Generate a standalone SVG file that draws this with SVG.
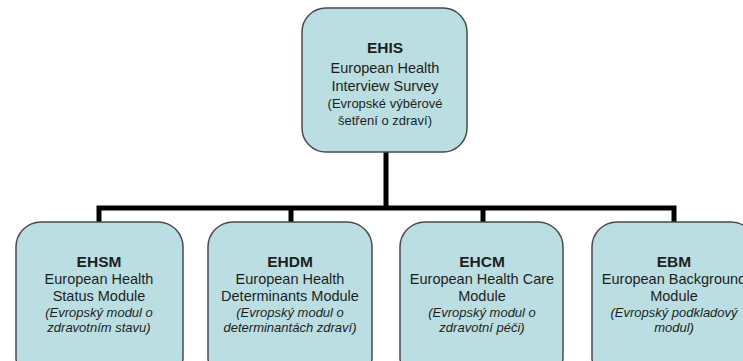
<svg xmlns="http://www.w3.org/2000/svg" width="743" height="361" viewBox="0 0 743 361">
<style>
.box{fill:#badee1;stroke:#4a4a4a;stroke-width:1.5}
.conn{fill:none;stroke:#000;stroke-width:5;stroke-linejoin:miter}
text{font-family:"Liberation Sans",Arial,sans-serif;fill:#1e1e1e;text-anchor:middle}
.t{font-weight:bold;font-size:15.5px}
.m{font-size:14.5px}
.s{font-size:13px}
.i{font-size:13px;font-style:italic}
</style>
<rect width="743" height="361" fill="#fff"/>
<g id="connectors">
<path class="conn" d="M386,152 V208"/>
<path class="conn" d="M99,222 V208 H674 V222"/>
<path class="conn" d="M291,208 V222"/>
<path class="conn" d="M483,208 V222"/>
</g>
<g id="ehis">
<rect class="box" x="302" y="8" width="165" height="144" rx="24"/>
<text x="385" y="53" class="t">EHIS</text>
<text x="385" y="73" class="m">European Health</text>
<text x="385" y="91" class="m">Interview Survey</text>
<text x="385" y="108" class="s">(Evropské výběrové</text>
<text x="385" y="125" class="s">šetření o zdraví)</text>
</g>
<g id="ehsm">
<rect class="box" x="16" y="222" width="167" height="160" rx="25"/>
<text x="99" y="267" class="t">EHSM</text>
<text x="99" y="284" class="m">European Health</text>
<text x="99" y="301" class="m">Status Module</text>
<text x="99" y="317" class="i">(Evropský modul o</text>
<text x="99" y="332" class="i">zdravotním stavu)</text>
</g>
<g id="ehdm">
<rect class="box" x="208" y="222" width="164" height="160" rx="25"/>
<text x="290" y="267" class="t">EHDM</text>
<text x="290" y="284" class="m">European Health</text>
<text x="290" y="301" class="m">Determinants Module</text>
<text x="290" y="317" class="i">(Evropský modul o</text>
<text x="290" y="332" class="i">determinantách zdraví)</text>
</g>
<g id="ehcm">
<rect class="box" x="400" y="222" width="163" height="160" rx="25"/>
<text x="482" y="267" class="t">EHCM</text>
<text x="482" y="284" class="m">European Health Care</text>
<text x="482" y="301" class="m">Module</text>
<text x="482" y="317" class="i">(Evropský modul o</text>
<text x="482" y="332" class="i">zdravotní péči)</text>
</g>
<g id="ebm">
<rect class="box" x="592" y="222" width="164" height="160" rx="25"/>
<text x="674" y="267" class="t">EBM</text>
<text x="674" y="284" class="m">European Background</text>
<text x="674" y="301" class="m">Module</text>
<text x="674" y="317" class="i">(Evropský podkladový</text>
<text x="674" y="332" class="i">modul)</text>
</g>
</svg>
